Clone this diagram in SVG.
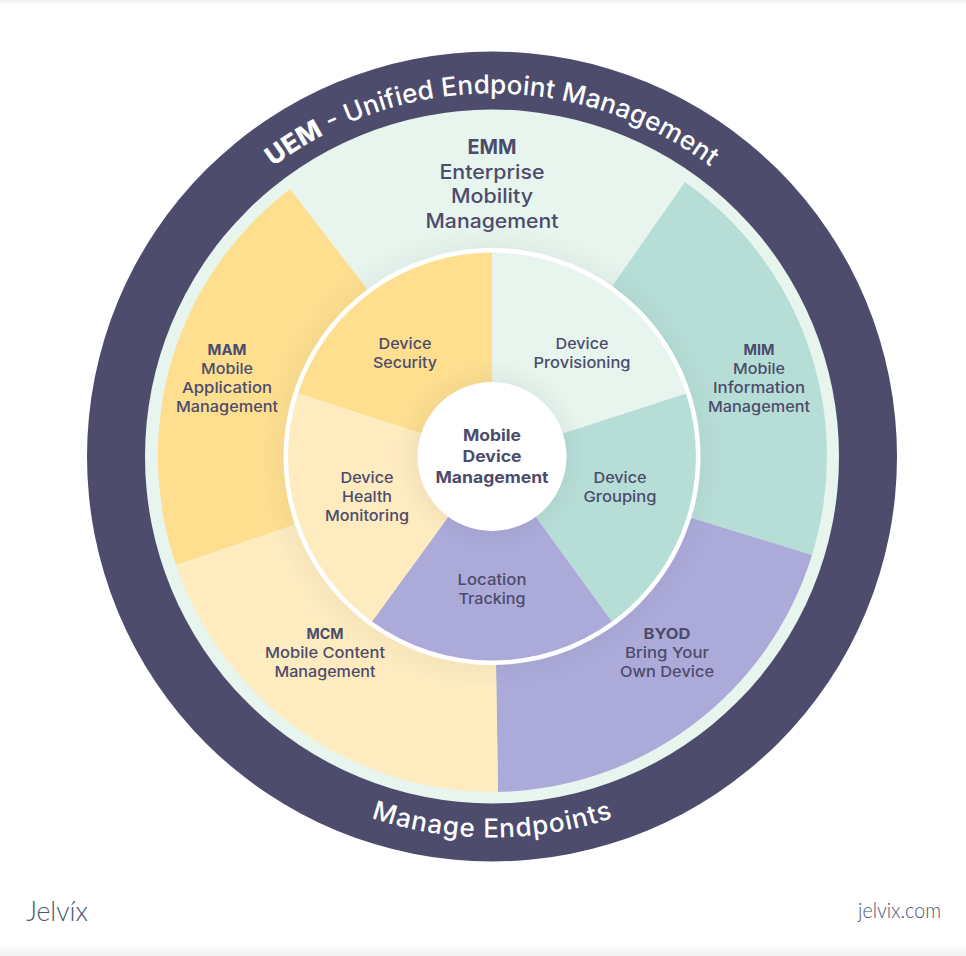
<svg xmlns="http://www.w3.org/2000/svg" width="966" height="956" viewBox="0 0 966 956">
  <style>
    text { font-family: "Inter", "Liberation Sans", sans-serif; fill: #4c4b6c; text-anchor: middle; }
    .s { font-size: 15px; font-weight: 500; }
    .sb { font-size: 15px; font-weight: 700; }
    .l { font-size: 20px; font-weight: 500; }
    .lb { font-size: 20px; font-weight: 700; }
    .c { font-size: 16px; font-weight: 700; }
    .ring { font-size: 26px; font-weight: 500; fill: #ffffff; }
    .ringb { font-weight: 800; }
    .foot { font-family: "Lato", "Liberation Sans", sans-serif; font-weight: 300; fill: #4a5570; }
    .yellow { fill: #fedf90; } .cream { fill: #feebc0; } .teal { fill: #b6ded6; }
    .lav { fill: #acaad9; } .mint { fill: #e7f5ee; }
  </style>
  <defs>
    <path id="topBase" d="M 129 456.5 A 363 363 0 0 1 855 456.5"/>
    <path id="bottomBase" d="M 111 456.5 A 381 381 0 0 0 873 456.5"/>
    <radialGradient id="ringShade" gradientUnits="userSpaceOnUse" cx="492" cy="456.5" r="232">
      <stop offset="0.89" stop-color="#3a3a4a" stop-opacity="0.045"/>
      <stop offset="1" stop-color="#3a3a4a" stop-opacity="0"/>
    </radialGradient>
    <radialGradient id="hubShade" gradientUnits="userSpaceOnUse" cx="492" cy="456.5" r="96">
      <stop offset="0.77" stop-color="#3a3a4a" stop-opacity="0.05"/>
      <stop offset="1" stop-color="#3a3a4a" stop-opacity="0"/>
    </radialGradient>
    <linearGradient id="edgeBottom" x1="0" y1="0" x2="0" y2="1">
      <stop offset="0" stop-color="#f1f1f1" stop-opacity="0"/>
      <stop offset="1" stop-color="#efefef"/>
    </linearGradient>
    <linearGradient id="edgeTop" x1="0" y1="1" x2="0" y2="0">
      <stop offset="0" stop-color="#f1f1f1" stop-opacity="0"/>
      <stop offset="1" stop-color="#f0f0f0"/>
    </linearGradient>
  </defs>

  <rect width="966" height="956" fill="#ffffff"/>
  <rect x="0" y="0" width="966" height="5" fill="url(#edgeTop)"/>
  <rect x="0" y="944" width="966" height="12" fill="url(#edgeBottom)"/>

  <g id="uem">
    <circle cx="492" cy="456.5" r="405" fill="#4d4c6d"/>
    <text class="ring"><textPath href="#topBase" startOffset="50%" textLength="469" lengthAdjust="spacing"><tspan class="ringb">UEM</tspan> - Unified Endpoint Management</textPath></text>
    <text class="ring"><textPath href="#bottomBase" startOffset="50%" textLength="246" lengthAdjust="spacing">Manage Endpoints</textPath></text>
  </g>

  <g id="emm">
    <circle class="mint" cx="492" cy="456.5" r="347"/>
    <text class="lb" x="492" y="154" textLength="49" lengthAdjust="spacingAndGlyphs">EMM</text>
    <text class="l" x="492" y="179" textLength="105" lengthAdjust="spacingAndGlyphs">Enterprise</text>
    <text class="l" x="492" y="203" textLength="82" lengthAdjust="spacingAndGlyphs">Mobility</text>
    <text class="l" x="492" y="228" textLength="133" lengthAdjust="spacingAndGlyphs">Management</text>
  </g>

  <g id="mam">
    <path class="yellow" d="M 176 565 A 335.5 335.5 0 0 1 290 189 L 367 289 L 294 525 Z"/>
  </g>
  <g id="mim">
    <path class="teal" d="M 685 182 A 335.5 335.5 0 0 1 812 555 L 692 518 L 613 285 Z"/>
  </g>
  <g id="byod">
    <path class="lav" d="M 812 555 A 335.5 335.5 0 0 1 498 792 L 496 665 L 692 518 Z"/>
  </g>
  <g id="mcm">
    <path class="cream" d="M 498 792 A 335.5 335.5 0 0 1 176 565 L 294 525 L 496 665 Z"/>
  </g>

  <circle id="ring-shade" cx="492" cy="456.5" r="232" fill="url(#ringShade)"/>
  <circle id="ring-white" cx="492" cy="456.5" r="208.5" fill="#ffffff"/>

  <g id="mam-label">
    <text class="sb" x="227" y="355" textLength="39" lengthAdjust="spacingAndGlyphs">MAM</text>
    <text class="s" x="227" y="374" textLength="52" lengthAdjust="spacingAndGlyphs">Mobile</text>
    <text class="s" x="227" y="393" textLength="90" lengthAdjust="spacingAndGlyphs">Application</text>
    <text class="s" x="227" y="412" textLength="102" lengthAdjust="spacingAndGlyphs">Management</text>
  </g>
  <g id="mim-label">
    <text class="sb" x="759" y="355" textLength="31" lengthAdjust="spacingAndGlyphs">MIM</text>
    <text class="s" x="759" y="374" textLength="52" lengthAdjust="spacingAndGlyphs">Mobile</text>
    <text class="s" x="759" y="393" textLength="92" lengthAdjust="spacingAndGlyphs">Information</text>
    <text class="s" x="759" y="412" textLength="102" lengthAdjust="spacingAndGlyphs">Management</text>
  </g>
  <g id="byod-label">
    <text class="sb" x="667" y="639" textLength="47" lengthAdjust="spacingAndGlyphs">BYOD</text>
    <text class="s" x="667" y="658" textLength="84" lengthAdjust="spacingAndGlyphs">Bring Your</text>
    <text class="s" x="667" y="677" textLength="94" lengthAdjust="spacingAndGlyphs">Own Device</text>
  </g>
  <g id="mcm-label">
    <text class="sb" x="325" y="639" textLength="37" lengthAdjust="spacingAndGlyphs">MCM</text>
    <text class="s" x="325" y="658" textLength="120" lengthAdjust="spacingAndGlyphs">Mobile Content</text>
    <text class="s" x="325" y="677" textLength="101" lengthAdjust="spacingAndGlyphs">Management</text>
  </g>

  <g id="device-security">
    <path class="yellow" d="M 298 393.5 A 204 204 0 0 1 492 252.5 L 492 456.5 Z"/>
    <text class="s" x="405" y="349" textLength="53" lengthAdjust="spacingAndGlyphs">Device</text>
    <text class="s" x="405" y="368" textLength="64" lengthAdjust="spacingAndGlyphs">Security</text>
  </g>
  <g id="device-provisioning">
    <path class="mint" d="M 492 252.5 A 204 204 0 0 1 686 393.5 L 492 456.5 Z"/>
    <text class="s" x="582" y="349" textLength="53" lengthAdjust="spacingAndGlyphs">Device</text>
    <text class="s" x="582" y="368" textLength="97" lengthAdjust="spacingAndGlyphs">Provisioning</text>
  </g>
  <g id="device-grouping">
    <path class="teal" d="M 686 393.5 A 204 204 0 0 1 612 621.5 L 492 456.5 Z"/>
    <text class="s" x="620" y="483" textLength="53" lengthAdjust="spacingAndGlyphs">Device</text>
    <text class="s" x="620" y="502" textLength="73" lengthAdjust="spacingAndGlyphs">Grouping</text>
  </g>
  <g id="location-tracking">
    <path class="lav" d="M 612 621.5 A 204 204 0 0 1 372 621.5 L 492 456.5 Z"/>
    <text class="s" x="492" y="585" textLength="69" lengthAdjust="spacingAndGlyphs">Location</text>
    <text class="s" x="492" y="604" textLength="67" lengthAdjust="spacingAndGlyphs">Tracking</text>
  </g>
  <g id="device-health">
    <path class="cream" d="M 372 621.5 A 204 204 0 0 1 298 393.5 L 492 456.5 Z"/>
    <text class="s" x="367" y="483" textLength="53" lengthAdjust="spacingAndGlyphs">Device</text>
    <text class="s" x="367" y="502" textLength="50" lengthAdjust="spacingAndGlyphs">Health</text>
    <text class="s" x="367" y="521" textLength="84" lengthAdjust="spacingAndGlyphs">Monitoring</text>
  </g>

  <circle id="hub-shade" cx="492" cy="456.5" r="96" fill="url(#hubShade)"/>
  <g id="mdm">
    <circle cx="492" cy="456.5" r="74.5" fill="#ffffff"/>
    <text class="c" x="492" y="441" textLength="58" lengthAdjust="spacingAndGlyphs">Mobile</text>
    <text class="c" x="492" y="462" textLength="59" lengthAdjust="spacingAndGlyphs">Device</text>
    <text class="c" x="492" y="483" textLength="113" lengthAdjust="spacingAndGlyphs">Management</text>
  </g>

  <g id="footer">
    <text class="foot" x="57" y="921" font-size="27" textLength="62" lengthAdjust="spacingAndGlyphs">Jelvíx</text>
    <text class="foot" x="899.5" y="918" font-size="21" textLength="83" lengthAdjust="spacingAndGlyphs">jelvix.com</text>
  </g>
</svg>
